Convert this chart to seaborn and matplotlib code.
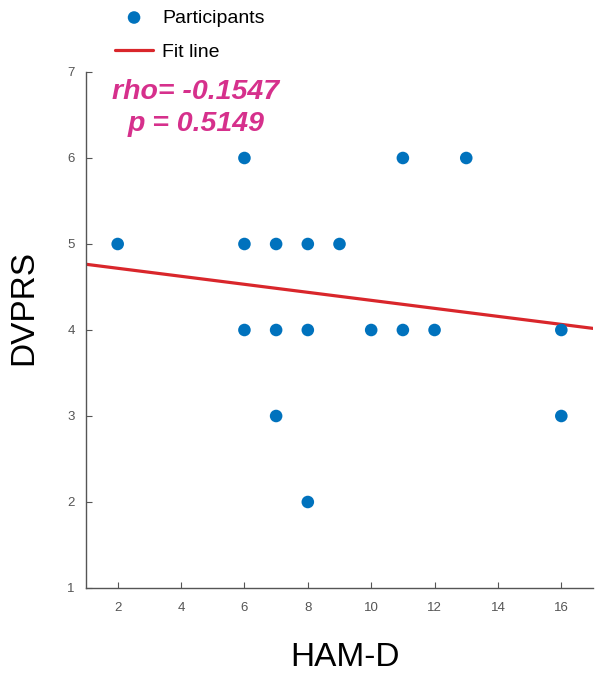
import numpy as np
import pandas as pd
import matplotlib
matplotlib.use("Agg")
import matplotlib.pyplot as plt
import seaborn as sns

# Data
ham_d = [2, 6, 6, 6, 7, 7, 7, 8, 8, 8, 9, 10, 11, 11, 12, 13, 16, 16]
dvprs = [5, 6, 5, 4, 5, 4, 3, 5, 4, 2, 5, 4, 6, 4, 4, 6, 4, 3]
rho_text = "rho= -0.1547"
p_text = "p = 0.5149"
x_ticks = [2, 4, 6, 8, 10, 12, 14, 16]
y_ticks = [1, 2, 3, 4, 5, 6, 7]

sns.set_theme(style="white")
plt.rcParams['font.family'] = ['Liberation Sans', 'DejaVu Sans']

df = pd.DataFrame({"HAM-D": ham_d, "DVPRS": dvprs})
slope, intercept = np.polyfit(df["HAM-D"], df["DVPRS"], 1)
fit_x = np.array([1.0, 17.0])
fit_df = pd.DataFrame({"x": fit_x, "y": slope * fit_x + intercept})

W, H = 595, 680
fig = plt.figure(figsize=(5.95, 6.8), dpi=100)
ax = fig.add_axes([86 / W, 1 - 588 / H, (593 - 86) / W, (588 - 72) / H])

blue = (0.0, 0.447, 0.741)
red = (0.85, 0.15, 0.17)
sns.lineplot(data=fit_df, x="x", y="y", ax=ax, color=red, linewidth=2.3, label="Fit line", zorder=2)
sns.scatterplot(data=df, x="HAM-D", y="DVPRS", ax=ax, color=blue, s=82, edgecolor="none",
                label="Participants", zorder=3)

ax.set_xlim(1, 17)
ax.set_ylim(1, 7)
ax.set_xticks(x_ticks)
ax.set_yticks(y_ticks)
ax.tick_params(direction="in", length=4, width=0.8, colors="#555555", labelsize=9.5,
               bottom=True, left=True, pad=8)
ax.tick_params(axis="x", pad=10)
for side in ["top", "right"]:
    ax.spines[side].set_visible(False)
for side in ["left", "bottom"]:
    ax.spines[side].set_color("#555555")
    ax.spines[side].set_linewidth(1.0)

ax.set_xlabel("")
ax.set_ylabel("")
fig.text(345 / W, 1 - 658 / H, "HAM-D", fontsize=24, color="black", ha="center", va="center")
fig.text(24 / W, 1 - 308 / H, "DVPRS", fontsize=24, color="black", ha="center", va="center",
         rotation=90)

mag = (0.84, 0.19, 0.55)
fig.text(196 / W, 1 - 92 / H, rho_text, fontsize=20.5, fontweight="bold", fontstyle="italic",
         color=mag, ha="center", va="center")
fig.text(196 / W, 1 - 124 / H, p_text, fontsize=20.5, fontweight="bold", fontstyle="italic",
         color=mag, ha="center", va="center")

handles, labels = ax.get_legend_handles_labels()
order = [labels.index("Participants"), labels.index("Fit line")]
leg = ax.legend([handles[i] for i in order], [labels[i] for i in order],
                loc="upper left", bbox_to_anchor=(115 / W, 1 - 9 / H),
                bbox_transform=fig.transFigure, frameon=False, fontsize=14,
                handlelength=1.96, handletextpad=0.46, labelspacing=0.84, borderaxespad=0,
                borderpad=0, markerscale=1.0)
for t in leg.get_texts():
    t.set_color("black")

fig.savefig("out.png", dpi=100)
